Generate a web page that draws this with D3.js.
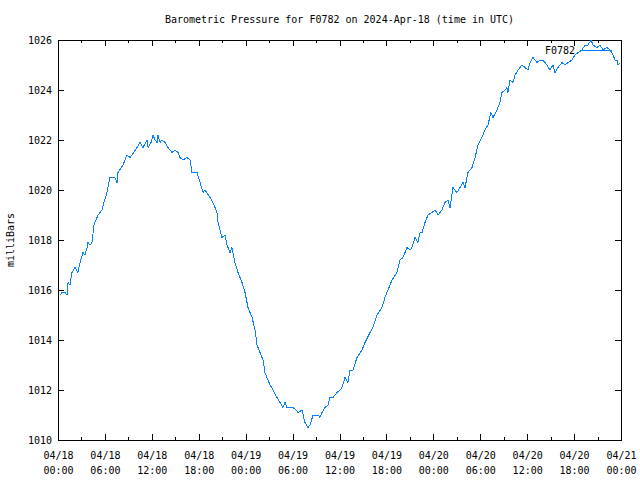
<!DOCTYPE html>
<html>
<head>
<meta charset="utf-8">
<script src="https://cdn.jsdelivr.net/npm/d3@7"></script>
<style>
  body { margin: 0; background: #fff; }
  svg text { font-family: "DejaVu Sans Mono", "Liberation Mono", monospace; font-size: 10px; fill: #000; }
</style>
</head>
<body>
<svg id="chart" width="640" height="480"></svg>
<script>
// ---- data (minutes after 2024-04-18 00:00 UTC, pressure in mb) ----
const minutes = [15,31,54,69,77,92,107,130,153,169,192,207,223,230,246,261,276,307,338,353,376,399,437,453,460,499,529,552,568,606,629,652,683,691,714,729,744,760,767,783,798,821,844,875,898,921,936,959,990,1013,1028,1067,1090,1113,1128,1166,1189,1220,1228,1258,1281,1297,1320,1335,1358,1381,1412,1435,1458,1489,1512,1527,1550,1573,1588,1611,1627,1650,1680,1703,1726,1742,1757,1780,1803,1826,1842,1872,1895,1918,1934,1957,1995,2010,2026,2049,2072,2087,2110,2141,2164,2179,2202,2225,2241,2264,2294,2333,2356,2394,2417,2448,2486,2509,2532,2563,2601,2624,2647,2678,2701,2716,2739,2762,2778,2793,2816,2839,2870,2893,2916,2946,2969,2992,3008,3031,3061,3085,3108,3123,3146,3177,3200,3223,3253,3276,3299,3322,3338,3368,3391,3407,3430,3445,3453,3468,3491,3507,3530,3560,3583,3606,3622,3645,3675,3698,3721,3752,3775,3798,3813,3837,3867,3890,3913,3944,3967,3990,4021,4044,4067,4090,4105,4136,4159,4182,4213,4236,4259,4274,4290,4297,4315];
const pressure = [1015.8,1015.9,1015.9,1015.8,1016.3,1016.2,1016.7,1016.9,1016.7,1017.1,1017.5,1017.4,1017.7,1017.9,1017.8,1017.9,1018.6,1019.0,1019.2,1019.5,1019.9,1020.5,1020.5,1020.3,1020.7,1021.0,1021.4,1021.3,1021.4,1021.7,1021.9,1021.7,1022.0,1021.7,1021.9,1022.2,1022.0,1021.9,1022.2,1021.9,1022.0,1021.9,1021.7,1021.5,1021.6,1021.5,1021.3,1021.2,1021.3,1021.2,1020.7,1020.7,1020.3,1019.9,1020.0,1019.7,1019.5,1019.1,1018.7,1018.1,1018.2,1017.8,1017.5,1017.7,1017.1,1016.7,1016.3,1015.9,1015.3,1014.9,1014.4,1013.8,1013.5,1013.2,1012.7,1012.4,1012.2,1012.0,1011.7,1011.5,1011.3,1011.5,1011.3,1011.3,1011.3,1011.2,1011.1,1011.2,1010.7,1010.5,1010.6,1011.0,1011.0,1010.9,1011.1,1011.3,1011.4,1011.7,1011.7,1011.9,1012.0,1012.1,1012.5,1012.3,1012.8,1012.8,1013.3,1013.6,1013.9,1014.3,1014.5,1015.0,1015.3,1015.7,1016.0,1016.4,1016.7,1017.2,1017.3,1017.7,1017.6,1017.7,1018.1,1017.9,1018.3,1018.3,1018.7,1019.0,1019.1,1019.2,1019.0,1019.2,1019.5,1019.6,1019.3,1020.1,1019.9,1020.1,1020.3,1020.1,1020.7,1020.9,1021.3,1021.8,1022.1,1022.4,1022.6,1023.1,1022.9,1023.2,1023.5,1023.9,1024.0,1024.1,1023.9,1024.4,1024.3,1024.6,1024.8,1025.0,1024.9,1024.8,1025.1,1025.3,1025.1,1025.2,1025.2,1025.0,1024.8,1025.0,1024.7,1024.9,1025.1,1025.0,1025.1,1025.2,1025.4,1025.5,1025.6,1025.8,1025.8,1026.0,1025.8,1025.7,1025.8,1025.6,1025.7,1025.6,1025.4,1025.2,1025.2,1025.0,1025.1];
const yTicks = [1010,1012,1014,1016,1018,1020,1022,1024,1026];
const xTickHours = [0,6,12,18,24,30,36,42,48,54,60,66,72];
const xTickLabels = ["04/18\n00:00","04/18\n06:00","04/18\n12:00","04/18\n18:00","04/19\n00:00","04/19\n06:00","04/19\n12:00","04/19\n18:00","04/20\n00:00","04/20\n06:00","04/20\n12:00","04/20\n18:00","04/21\n00:00"];
const titleText = "Barometric Pressure for F0782 on 2024-Apr-18 (time in UTC)";
const yTitle = "milliBars";
const seriesName = "F0782";

// ---- layout ----
const L = 58, R = 621, T = 40, B = 440;
const lineColor = "#0a80ff";
const svg = d3.select("#chart");

const t0 = Date.UTC(2024, 3, 18, 0, 0);
const x = d3.scaleUtc().domain([new Date(t0), new Date(t0 + 72 * 3600e3)]).range([L, R]);
const y = d3.scaleLinear().domain([1010, 1026]).range([B, T]);

const data = minutes.map((m, i) => ({ t: new Date(t0 + m * 60e3), v: pressure[i] }));
const majorDates = xTickHours.map(h => new Date(t0 + h * 3600e3));
const minorDates = d3.range(3, 72, 6).map(h => new Date(t0 + h * 3600e3));

// minor ticks (bottom & top)
svg.append("g").attr("transform", `translate(0,${B})`)
  .call(d3.axisBottom(x).tickValues(minorDates).tickSize(-3).tickFormat(""))
  .call(g => g.select(".domain").remove());
svg.append("g").attr("transform", `translate(0,${T})`)
  .call(d3.axisTop(x).tickValues(minorDates).tickSize(-3).tickFormat(""))
  .call(g => g.select(".domain").remove());
svg.append("g").attr("transform", `translate(0,${T})`)
  .call(d3.axisTop(x).tickValues(majorDates).tickSize(-6).tickFormat(""))
  .call(g => g.select(".domain").remove());

// bottom major ticks with labels
const xAxis = svg.append("g").attr("transform", `translate(0,${B})`)
  .call(d3.axisBottom(x).tickValues(majorDates).tickSize(-6).tickPadding(0)
    .tickFormat((d, i) => xTickLabels[i]));
xAxis.select(".domain").remove();
xAxis.selectAll(".tick text").each(function(d, i) {
  const parts = xTickLabels[i].split("\n");
  const s = d3.select(this).text(null).attr("y", 0).attr("dy", null);
  parts.forEach((p, k) => s.append("tspan").attr("x", 0).attr("y", 19 + k * 15).text(p));
});

// y axis left and right
const yAxis = svg.append("g").attr("transform", `translate(${L},0)`)
  .call(d3.axisLeft(y).tickValues(yTicks).tickSize(-6).tickPadding(6).tickFormat(d3.format("d")));
yAxis.select(".domain").remove();
yAxis.selectAll(".tick text").attr("x", -6);
svg.append("g").attr("transform", `translate(${R},0)`)
  .call(d3.axisRight(y).tickValues(yTicks).tickSize(-6).tickFormat(""))
  .call(g => g.select(".domain").remove());

svg.selectAll(".tick line").attr("stroke", "#000").attr("shape-rendering", "crispEdges");
svg.selectAll("g text").attr("font-size", null).attr("font-family", null);

// border
svg.append("rect").attr("x", L + 0.5).attr("y", T + 0.5)
  .attr("width", R - L).attr("height", B - T)
  .attr("fill", "none").attr("stroke", "#000").attr("stroke-width", 1)
  .attr("shape-rendering", "crispEdges");

// line
svg.append("path").datum(data)
  .attr("fill", "none").attr("stroke", lineColor).attr("stroke-width", 1)
  .attr("shape-rendering", "crispEdges")
  .attr("d", d3.line().x(d => x(d.t)).y(d => y(d.v)));

// legend
svg.append("text").attr("x", 575).attr("y", 54).attr("text-anchor", "end").text(seriesName);
svg.append("line").attr("x1", 582).attr("x2", 612).attr("y1", 50.5).attr("y2", 50.5)
  .attr("stroke", lineColor).attr("stroke-width", 1).attr("shape-rendering", "crispEdges");

// title
svg.append("text").attr("x", (L + R) / 2).attr("y", 23).attr("text-anchor", "middle").text(titleText);

// y title
svg.append("text").attr("transform", `translate(14,${(T + B) / 2}) rotate(-90)`)
  .attr("text-anchor", "middle").text(yTitle);
</script>
</body>
</html>
